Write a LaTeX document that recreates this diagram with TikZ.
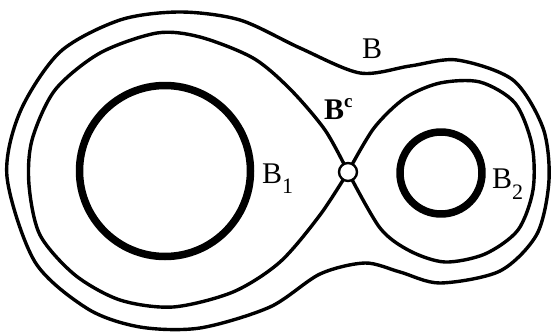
\documentclass[tikz,border=0pt]{standalone}
\usepackage{fontspec}
\setmainfont{Liberation Serif}
\definecolor{Ink}{HTML}{000000}
\definecolor{Paper}{HTML}{FFFFFF}
\newcommand{\lowidx}[2]{\raisebox{#1}{\fontsize{22}{22}\selectfont #2}}

\begin{document}
\begin{tikzpicture}[x=1pt,y=-1pt,line cap=round,line join=round,
  curve/.style={draw=Ink,line width=3.4pt},
  ball/.style={circle,draw=Ink,line width=7.5pt,inner sep=0pt},
  lab/.style={font=\fontsize{30}{32}\selectfont,text=Ink,inner sep=0pt,anchor=base west}]
\useasboundingbox (0,0) rectangle (552,332);
% outer boundary B
\draw[curve] plot[smooth cycle] coordinates {(7,177) (20,112) (60,52) (120,20) (180,12) (240,20) (300,48) (360,73) (410,66) (457,60) (513,80) (543,128) (549,180) (537,234) (500,271) (440,283) (400,272) (365,263) (320,274) (270,307) (200,328) (140,327) (88,309) (35,262)};
% figure eight B^c, left loop then right loop
\draw[curve] plot[smooth] coordinates {(348,172) (325,130) (290,89) (253,58) (200,37) (157,33) (100,53) (55,90) (32,140) (29,185) (40,235) (75,275) (120,300) (173,307) (233,292) (280,262) (320,215) (348,172)};
\draw[curve] plot[smooth] coordinates {(348,172) (374,128) (405,98) (440,83) (480,82) (515,103) (532,145) (533,190) (518,230) (485,254) (445,262) (410,251) (380,228) (348,172)};
% the two balls and the saddle point
\node[ball,minimum size=171pt] (ballone) at (165,171) {};
\node[ball,minimum size=82pt] (balltwo) at (441,173) {};
\node[circle,draw=Ink,fill=Paper,line width=2.4pt,minimum size=18pt,inner sep=0pt] (saddle) at (348,172) {};
% labels
\node[lab] (labB) at (362,58) {B};
\node[lab] (labBc) at (324,119) {\bfseries B\raisebox{12pt}{\fontsize{19}{19}\selectfont c}};
\node[lab] (labBone) at (262,183) {B\lowidx{-10pt}{1}};
\node[lab] (labBtwo) at (492,188) {B\lowidx{-11pt}{2}};
\end{tikzpicture}
\end{document}
